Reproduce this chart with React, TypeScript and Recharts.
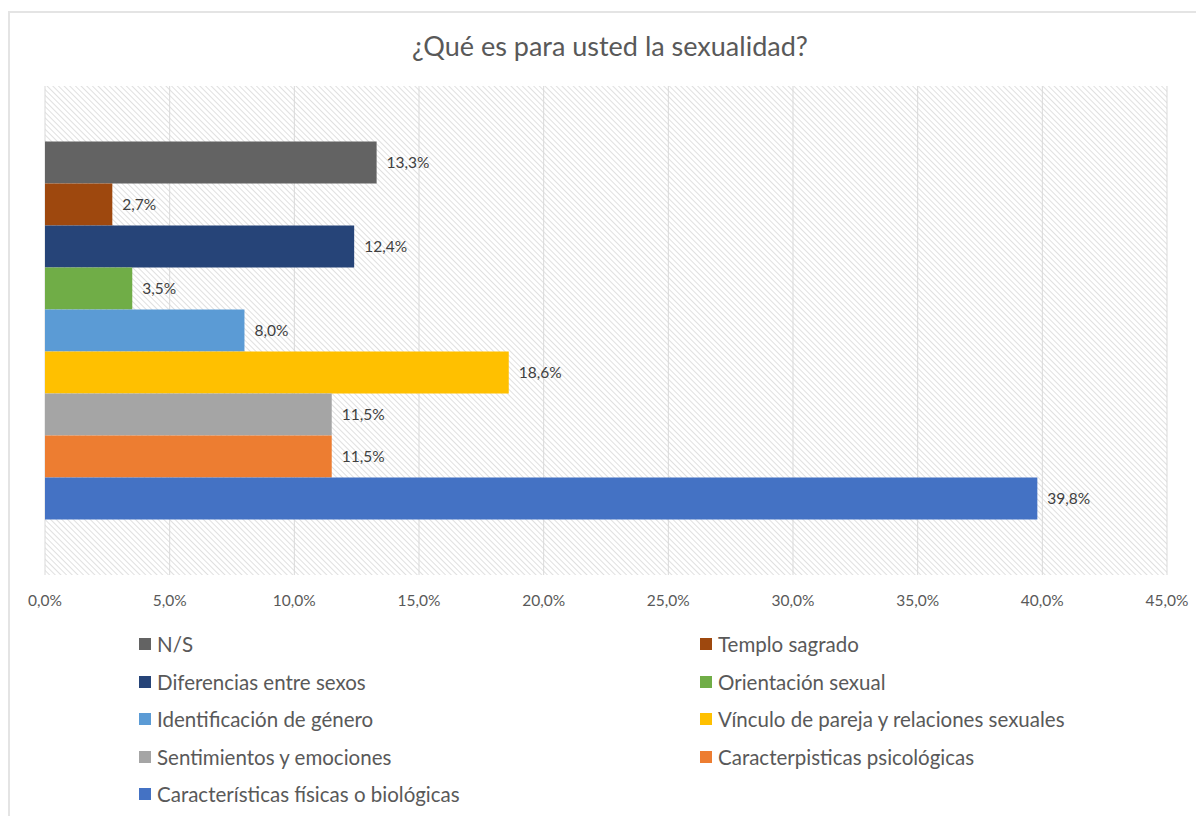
import React from "react";
import { BarChart, Bar, XAxis, YAxis, CartesianGrid, LabelList, Legend } from "recharts";

const title = "¿Qué es para usted la sexualidad?";
const categories = ["Sexualidad"];
const seriesNames = [
  "N/S",
  "Templo sagrado",
  "Diferencias entre sexos",
  "Orientación sexual",
  "Identificación de género",
  "Vínculo de pareja y relaciones sexuales",
  "Sentimientos y emociones",
  "Caracterpisticas psicológicas",
  "Características físicas o biológicas",
];
const seriesValues = [13.3, 2.7, 12.4, 3.5, 8.0, 18.6, 11.5, 11.5, 39.8];
const seriesColors = [
  "#636363",
  "#9E480E",
  "#264478",
  "#70AD47",
  "#5B9BD5",
  "#FFC000",
  "#A5A5A5",
  "#ED7D31",
  "#4472C4",
];
const xTicks = [0, 5, 10, 15, 20, 25, 30, 35, 40, 45];

const data = categories.map((c) => {
  const row: Record<string, any> = { cat: c };
  seriesNames.forEach((n, i) => {
    row["s" + i] = seriesValues[i];
  });
  return row;
});

const fmt = (v: any) => Number(v).toFixed(1).replace(".", ",") + "%";
const FONT = "Lato, 'Open Sans', sans-serif";
const TXT = "#595959";

const LegendContent = () => (
  <div style={{ position: "relative", width: 1196, height: 190, fontFamily: FONT }}>
    {seriesNames.map((n, i) => {
      const col = i % 2;
      const row = Math.floor(i / 2);
      const left = col === 0 ? 131 : 692;
      const cy = 16 + row * 37.5;
      return (
        <div
          key={n}
          style={{
            position: "absolute",
            left,
            top: cy - 14,
            height: 28,
            display: "flex",
            alignItems: "center",
            whiteSpace: "nowrap",
          }}
        >
          <span style={{ display: "inline-block", width: 12, height: 12, background: seriesColors[i], marginRight: 6 }} />
          <span style={{ fontSize: 20.5, color: TXT }}>{n}</span>
        </div>
      );
    })}
  </div>
);

export default function App() {
  return (
    <div style={{ position: "relative", width: 1196, height: 808, fontFamily: FONT }}>
      <div
        style={{
          position: "absolute",
          top: 3,
          left: 0,
          width: 1192,
          height: 805,
          borderTop: "2px solid #e4e4e4",
          borderLeft: "2px solid #e4e4e4",
          borderRight: "2px solid #ececec",
          boxSizing: "border-box",
        }}
      />
      <div
        style={{
          position: "absolute",
          top: 21,
          left: 4,
          width: 1196,
          textAlign: "center",
          fontSize: 27,
          color: TXT,
          fontFamily: FONT,
        }}
      >
        {title}
      </div>
      <div style={{ position: "absolute", top: 0, left: 0 }}>
        <BarChart
          width={1196}
          height={808}
          data={data}
          layout="vertical"
          margin={{ top: 78, left: 37, right: 37, bottom: 211 }}
          barCategoryGap="11.35%"
          barGap={0}
        >
          <defs>
            <pattern id="hatch" width="4" height="4" patternUnits="userSpaceOnUse" patternTransform="rotate(-45)">
              <rect width="4" height="4" fill="#ffffff" />
              <line x1="0" y1="0" x2="0" y2="4" stroke="#cfcfcf" strokeWidth="1.3" />
            </pattern>
          </defs>
          <CartesianGrid horizontal={false} stroke="#d9d9d9" fill="url(#hatch)" />
          <XAxis
            type="number"
            domain={[0, 45]}
            ticks={xTicks}
            tickFormatter={fmt}
            axisLine={false}
            tickLine={false}
            tickSize={0}
            tickMargin={20}
            height={30}
            interval={0}
            tick={{ fill: TXT, fontSize: 15.5, fontFamily: FONT }}
          />
          <YAxis type="category" dataKey="cat" hide />
          <Legend
            verticalAlign="middle"
            layout="horizontal"
            content={<LegendContent />}
            wrapperStyle={{ top: 620, left: 0, width: 1196 }}
          />
          {seriesNames.map((n, i) => (
            <Bar key={n} dataKey={"s" + i} name={n} fill={seriesColors[i]} isAnimationActive={false}>
              <LabelList
                dataKey={"s" + i}
                position="right"
                offset={10}
                formatter={fmt}
                fill="#404040"
                fontSize={15.5}
                fontFamily={FONT}
              />
            </Bar>
          ))}
        </BarChart>
      </div>
    </div>
  );
}
